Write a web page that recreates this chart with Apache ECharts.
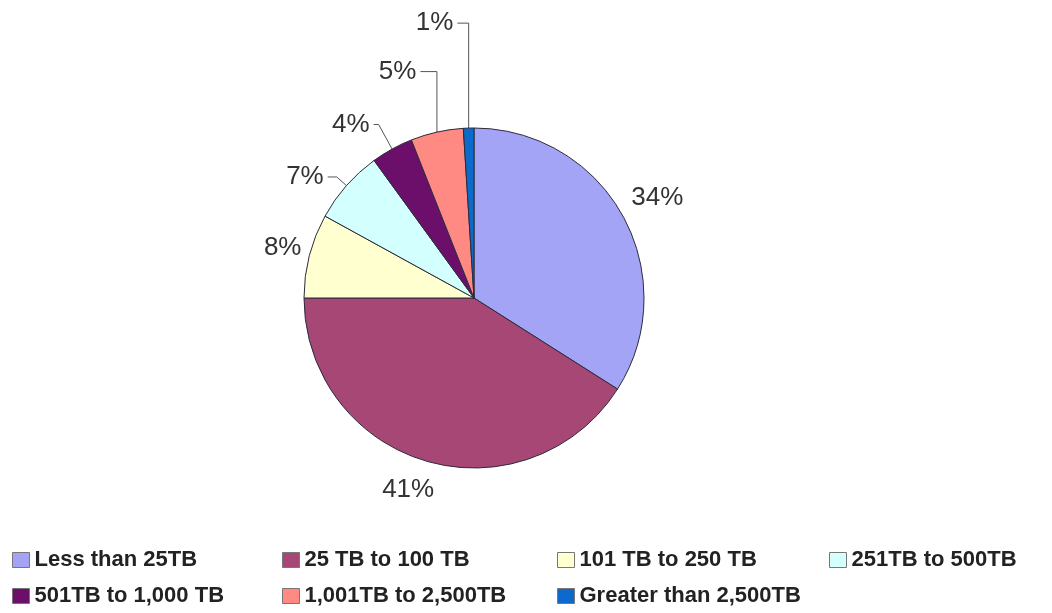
<!DOCTYPE html>
<html>
<head>
<meta charset="utf-8">
<script src="https://cdn.jsdelivr.net/npm/echarts@6/dist/echarts.min.js"></script>
<style>
html,body{margin:0;padding:0;background:#fff;}
#chart{width:1052px;height:613px;}
</style>
</head>
<body>
<div id="chart"></div>
<script>
var categories = ['Less than 25TB', '25 TB to 100 TB', '101 TB to 250 TB', '251TB to 500TB',
                  '501TB to 1,000 TB', '1,001TB to 2,500TB', 'Greater than 2,500TB'];
var shares = [34, 41, 8, 7, 4, 5, 1];
var colors = ['#A4A4F6', '#A64775', '#FFFFCF', '#D4FFFF', '#6B0F6B', '#FF8A84', '#0B6ACB'];

// label placement tuning (not data)
var lineLen  = [5, 30, 4, 13, 28, 62, 105];
var lineLen2 = [0, 0, 0, 9, 5, 3, 8];
var lineShow = [false, false, false, true, true, true, true];
var lineVertical = [false, false, false, false, false, true, true];
var labelShift = [[0, -16], [20, 0], [0, -7], [0, 0], [0, 0], [0, 0], [0, 0]];

var chart = echarts.init(document.getElementById('chart'), null, {renderer: 'canvas'});

var data = categories.map(function (n, i) {
  return {
    name: n,
    value: shares[i],
    itemStyle: {color: colors[i]},
    labelLine: {show: lineShow[i], length: lineLen[i], length2: lineLen2[i]}
  };
});

var legendFont = {fontFamily: 'Liberation Sans, Arial, sans-serif', fontSize: 22, fontWeight: 'bold', color: '#222'};
var legendCols = [
  [categories[0], categories[4]],
  [categories[1], categories[5]],
  [categories[2], categories[6]],
  [categories[3]]
];
var legendLefts = [12, 282, 557, 829];
var legends = legendCols.map(function (col, i) {
  return {
    orient: 'vertical',
    left: legendLefts[i],
    top: 549,
    data: col,
    itemWidth: 17,
    itemHeight: 15,
    itemGap: 14,
    icon: 'rect',
    selectedMode: false,
    padding: 0,
    itemStyle: {borderColor: '#777', borderWidth: 1},
    textStyle: legendFont
  };
});

chart.setOption({
  animation: false,
  backgroundColor: '#fff',
  legend: legends,
  series: [{
    type: 'pie',
    center: [474, 298],
    radius: 170,
    startAngle: 90,
    clockwise: true,
    avoidLabelOverlap: false,
    data: data,
    itemStyle: {borderColor: '#2b2b3b', borderWidth: 1},
    label: {
      show: true,
      position: 'outside',
      formatter: '{c}%',
      fontFamily: 'Liberation Sans, Arial, sans-serif',
      fontSize: 26,
      color: '#333',
      distanceToLabelLine: 4
    },
    labelLine: {lineStyle: {color: '#555', width: 1}},
    labelLayout: function (p) {
      var i = p.dataIndex;
      var s = labelShift[i];
      var out = {dx: s[0], dy: s[1]};
      var pts = p.labelLinePoints;
      if (lineVertical[i] && pts && pts.length === 3) {
        out.labelLinePoints = [
          [pts[0][0], pts[0][1]],
          [pts[0][0], pts[1][1]],
          [pts[2][0], pts[2][1]]
        ];
      }
      return out;
    },
    emphasis: {disabled: true}
  }]
});
</script>
</body>
</html>
